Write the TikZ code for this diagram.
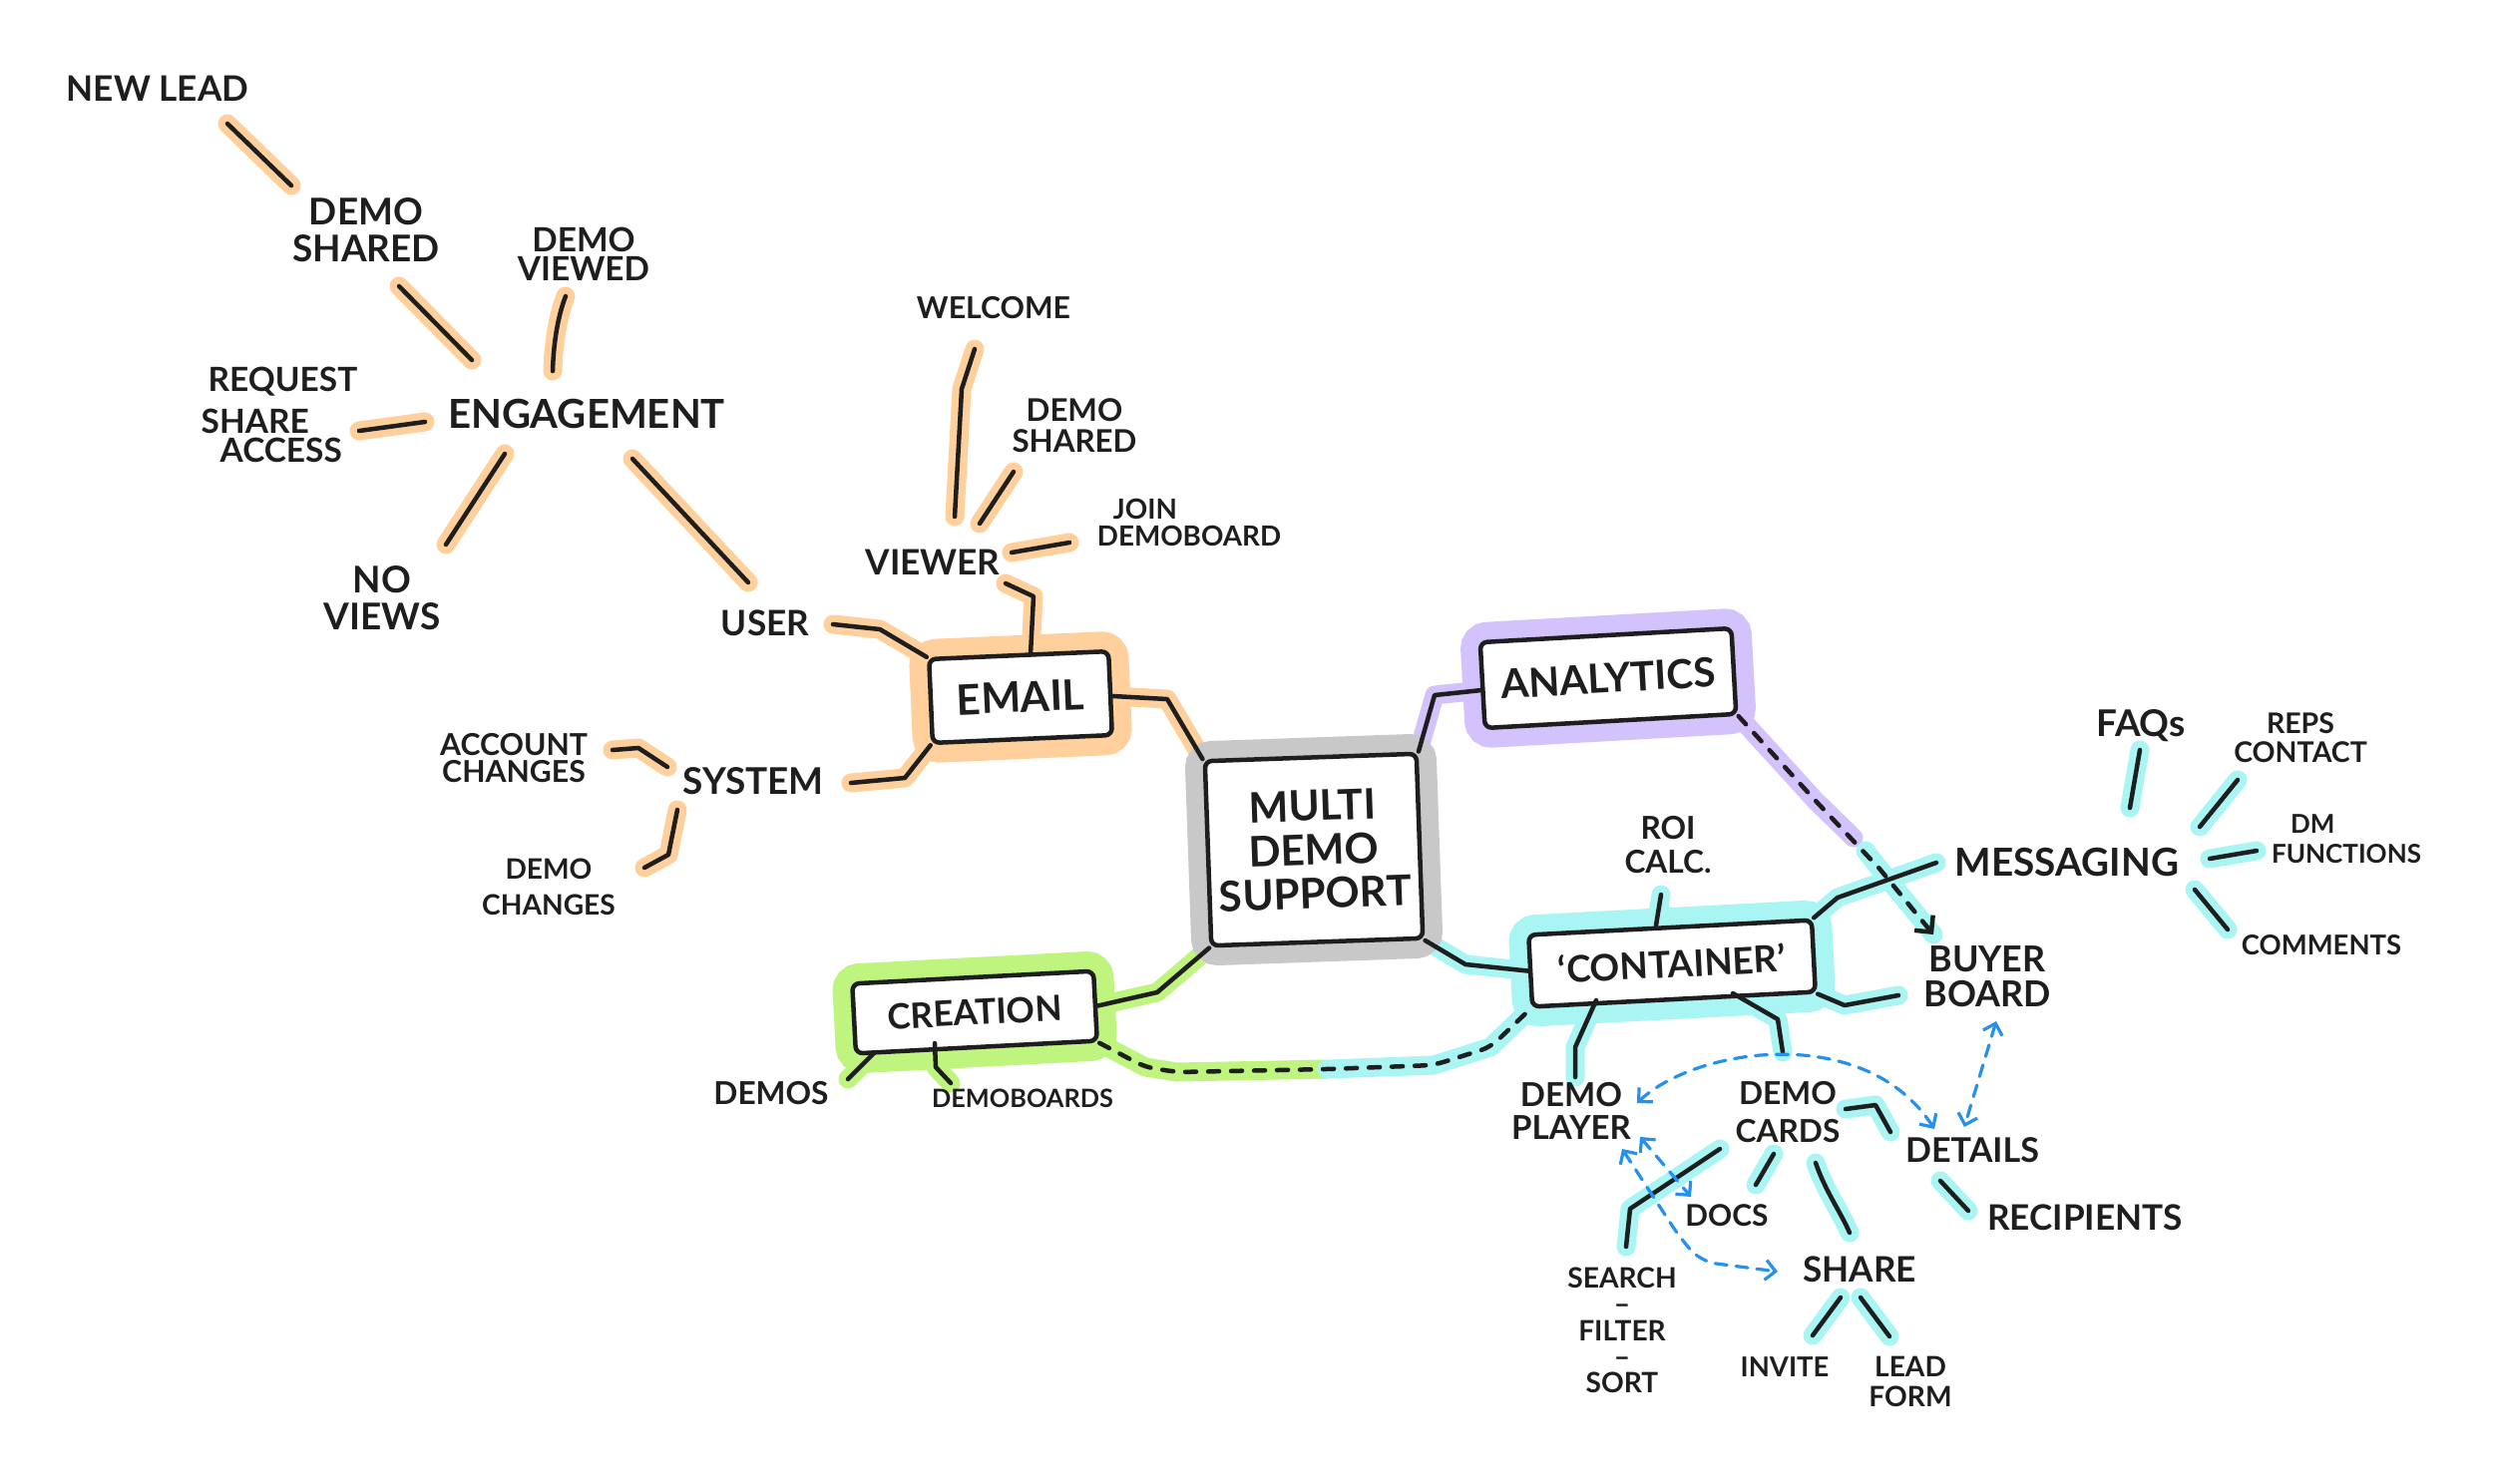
\documentclass[tikz,border=0pt]{standalone}
\usepackage{fontspec}
\setmainfont{Lato}
\usetikzlibrary{arrows.meta}
\definecolor{inkc}{HTML}{1E1E1E}
\definecolor{hlorange}{HTML}{FFCF9C}
\definecolor{hlpurple}{HTML}{D3C2FC}
\definecolor{hlgrey}{HTML}{C8C8C8}
\definecolor{hlcyan}{HTML}{A8F5F3}
\definecolor{hlgreen}{HTML}{BFF47F}
\definecolor{arrblue}{HTML}{2490EF}
\pgfdeclarelayer{bg}
\pgfsetlayers{bg,main}
\newcommand\myconn[2]{%
  \begin{pgfonlayer}{bg}\draw[hl=#1] #2;\end{pgfonlayer}%
  \draw[inkline] #2;}
\begin{document}
\begin{tikzpicture}[x=0.01cm,y=-0.01cm,
  inkline/.style={draw=inkc, line width=0.045cm, line cap=round, line join=round},
  hl/.style={draw=#1, line width=0.19cm, line cap=round, line join=round},
  lbl/.style 2 args={font=\fontsize{#1}{#2}\selectfont\bfseries, text=inkc, align=center, inner sep=0pt},
  boxn/.style={draw=inkc, fill=white, line width=0.045cm, rounded corners=0.07cm, inner sep=0pt, text=inkc, align=center, preaction={draw=#1, line width=0.4cm}},
  dashy/.style={dash pattern=on 0.11cm off 0.12cm},
  barrow/.style={draw=arrblue, line width=0.032cm, line cap=round, dash pattern=on 0.12cm off 0.09cm, {Straight Barb[length=0.1cm,width=0.2cm]}-{Straight Barb[length=0.1cm,width=0.2cm]}}
]
\useasboundingbox (0,0) rectangle (2500,1487);
\begin{pgfonlayer}{bg}\fill[white] (0,0) rectangle (2500,1487);\end{pgfonlayer}

% ---------- boxes ----------
\node[boxn=hlorange, minimum width=1.8cm, minimum height=0.84cm, rotate=2.5, font=\fontsize{12}{14}\selectfont\bfseries] (email) at (1023,699) {EMAIL};
\node[boxn=hlgrey, minimum width=2.12cm, minimum height=1.85cm, rotate=2, font=\fontsize{12}{12.5}\selectfont\bfseries] (mds) at (1317,852) {MULTI\\DEMO\\SUPPORT};
\node[boxn=hlpurple, minimum width=2.52cm, minimum height=0.86cm, rotate=3.2, font=\fontsize{11.5}{14}\selectfont\bfseries] (ana) at (1612,680) {ANALYTICS};
\node[boxn=hlcyan, minimum width=2.84cm, minimum height=0.72cm, rotate=3, font=\fontsize{10.5}{14}\selectfont\bfseries] (cont) at (1676,966) {`CONTAINER'};
\node[boxn=hlgreen, minimum width=2.42cm, minimum height=0.7cm, rotate=3, font=\fontsize{10}{14}\selectfont\bfseries] (cre) at (977,1015) {CREATION};

% ---------- labels ----------
\node[lbl={10}{12}] (nl) at (158,89) {NEW LEAD};
\node[lbl={10.5}{10.5}] (dsh) at (367,231) {DEMO\\SHARED};
\node[lbl={9.5}{8.3}] (dv) at (585,255) {DEMO\\VIEWED};
\node[lbl={11.4}{12}] (eng) at (588,415) {ENGAGEMENT};
\node[lbl={9.5}{8.3}, align=left] (rsa) at (280,416) {\hspace*{0.07cm}REQUEST\\[3.7pt]SHARE\\\hspace*{0.19cm}ACCESS};
\node[lbl={10.5}{10.5}] (nv) at (383,600) {NO\\VIEWS};
\node[lbl={10}{12}] (user) at (767,625) {USER};
\node[lbl={8.6}{10}] (wel) at (996,309) {WELCOME};
\node[lbl={8.9}{8.8}] (dsh2) at (1077,427) {DEMO\\SHARED};
\node[lbl={7.9}{7.7}, align=left] (jd) at (1192,524) {\hspace*{0.16cm}JOIN\\DEMOBOARD};
\node[lbl={10}{12}] (viewer) at (935,564) {VIEWER};
\node[lbl={10.5}{12}] (sys) at (755,783) {SYSTEM};
\node[lbl={8.6}{7.7}] (ac) at (515,760) {ACCOUNT\\CHANGES};
\node[lbl={8}{10.2}] (dc) at (550,889) {DEMO\\CHANGES};
\node[lbl={9}{9.7}] (roi) at (1672,847) {ROI\\CALC.};
\node[lbl={11}{12}] (msg) at (2072,864) {MESSAGING};
\node[lbl={10.2}{10}] (bb) at (1992,979) {BUYER\\BOARD};
\node[lbl={9.4}{9.4}] (dp) at (1575,1114) {DEMO\\PLAYER};
\node[lbl={9}{10.8}] (dcards) at (1792,1115) {DEMO\\CARDS};
\node[lbl={9.7}{12}] (det) at (1977,1153) {DETAILS};
\node[lbl={10}{12}] (rec) at (2090,1221) {RECIPIENTS};
\node[lbl={8}{7.5}] (sfs) at (1626,1334) {SEARCH\\--\\FILTER\\--\\SORT};
\node[lbl={8.5}{12}] (docs) at (1731,1219) {DOCS};
\node[lbl={10}{12}] (share) at (1864,1273) {SHARE};
\node[lbl={7.8}{12}] (inv) at (1789,1371) {INVITE};
\node[lbl={8}{8.5}] (lf) at (1915,1385) {LEAD\\FORM};
\node[lbl={10.5}{12}] (faq) at (2146,728) {FAQs};
\node[lbl={8.1}{8.3}] (reps) at (2306,740) {REPS\\CONTACT};
\node[lbl={7.4}{8.5}, align=left] (dm) at (2352,841) {\hspace*{0.19cm}DM\\FUNCTIONS};
\node[lbl={7.8}{12}] (com) at (2327,948) {COMMENTS};
\node[lbl={9}{12}] (demos) at (773,1096) {DEMOS};
\node[lbl={7.2}{12}] (dboards) at (1025,1101) {DEMOBOARDS};

% ---------- orange connectors ----------
\myconn{hlorange}{([shift={(70,35)}]nl.center) -- ([shift={(-75,-45)}]dsh.center)}
\myconn{hlorange}{([shift={(33,56)}]dsh.center) -- ([shift={(-115,-54)}]eng.center)}
\myconn{hlorange}{([shift={(-18,42)}]dv.center) .. controls (560,315) and (555,340) .. ([shift={(-34,-43)}]eng.center)}
\myconn{hlorange}{([shift={(80,16)}]rsa.center) -- ([shift={(-162,8)}]eng.center)}
\myconn{hlorange}{([shift={(-82,40)}]eng.center) -- ([shift={(64,-54)}]nv.center)}
\myconn{hlorange}{([shift={(46,45)}]eng.center) -- ([shift={(-17,-41)}]user.center)}
\myconn{hlorange}{([shift={(68,1)}]user.center) -- (882,631) -- (email.north west)}
\myconn{hlorange}{([shift={(-19,41)}]wel.center) -- (964,390) -- ([shift={(22,-46)}]viewer.center)}
\myconn{hlorange}{([shift={(-61,46)}]dsh2.center) -- ([shift={(47,-39)}]viewer.center)}
\myconn{hlorange}{([shift={(-120,20)}]jd.center) -- ([shift={(79,-10)}]viewer.center)}
\myconn{hlorange}{([shift={(73,21)}]viewer.center) -- (1036,598) -- ([shift={(12,0)}]email.north)}
\myconn{hlorange}{([shift={(0,3)}]email.east) -- (1170,701) -- (mds.north west)}
\myconn{hlorange}{([shift={(98,2)}]sys.center) -- (907,780) -- (email.south west)}
\myconn{hlorange}{([shift={(99,-8)}]ac.center) -- (640,750) -- ([shift={(-86,-14)}]sys.center)}
\myconn{hlorange}{([shift={(-76,29)}]sys.center) -- (670,857) -- ([shift={(96,-19)}]dc.center)}

% ---------- purple ----------
\myconn{hlpurple}{(mds.north east) -- (1438,697) -- ([shift={(0,5)}]ana.west)}
\begin{pgfonlayer}{bg}
\draw[hl=hlpurple] (ana.south east) -- (1820,803) -- (1858,840);
\draw[hl=hlcyan] (1870,853) -- (1884,871) -- ([shift={(-54,-42)}]bb.center);
\end{pgfonlayer}
\draw[inkline, dashy, -{Straight Barb[length=0.12cm,width=0.24cm]}] (ana.south east) -- (1820,803) -- (1884,871) -- ([shift={(-54,-42)}]bb.center);

% ---------- cyan ----------
\myconn{hlcyan}{(mds.south east) -- (1469,967) -- (cont.west)}
\myconn{hlcyan}{([shift={(-7,50)}]roi.center) -- ([shift={(-14,0)}]cont.north)}
\myconn{hlcyan}{(cont.north east) -- (1842,900) -- ([shift={(-131,1)}]msg.center)}
\myconn{hlcyan}{(cont.south east) -- (1849,1008) -- ([shift={(-89,19)}]bb.center)}
\myconn{hlcyan}{([shift={(-76,37)}]cont.center) -- (1579,1050) -- ([shift={(4,-34)}]dp.center)}
\myconn{hlcyan}{([shift={(61,30)}]cont.center) -- (1782,1022) -- ([shift={(-5,-60)}]dcards.center)}
\myconn{hlcyan}{([shift={(58,-3)}]dcards.center) -- (1880,1108) -- ([shift={(-82,-18)}]det.center)}
\myconn{hlcyan}{([shift={(-32,31)}]det.center) -- ([shift={(-117,-7)}]rec.center)}
\myconn{hlcyan}{([shift={(-68,37)}]dcards.center) -- (1634,1212) -- ([shift={(4,-84)}]sfs.center)}
\myconn{hlcyan}{([shift={(-14,42)}]dcards.center) -- ([shift={(29,-31)}]docs.center)}
\myconn{hlcyan}{([shift={(28,51)}]dcards.center) .. controls (1830,1195) and (1845,1215) .. ([shift={(-10,-37)}]share.center)}
\myconn{hlcyan}{([shift={(-19,28)}]share.center) -- ([shift={(28,-32)}]inv.center)}
\myconn{hlcyan}{([shift={(1,28)}]share.center) -- ([shift={(-21,-45)}]lf.center)}
\myconn{hlcyan}{([shift={(-1,24)}]faq.center) -- ([shift={(63,-54)}]msg.center)}
\myconn{hlcyan}{([shift={(-63,42)}]reps.center) -- ([shift={(133,-35)}]msg.center)}
\myconn{hlcyan}{([shift={(-90,12)}]dm.center) -- ([shift={(143,-3)}]msg.center)}
\myconn{hlcyan}{([shift={(128,28)}]msg.center) -- ([shift={(-94,-16)}]com.center)}

% ---------- green ----------
\myconn{hlgreen}{(mds.south west) -- (1160,995) -- (cre.east)}
\myconn{hlgreen}{([shift={(-101,41)}]cre.center) -- ([shift={(77,-14)}]demos.center)}
\myconn{hlgreen}{([shift={(-40,31)}]cre.center) -- (938,1070) -- ([shift={(-72,-15)}]dboards.center)}
\begin{pgfonlayer}{bg}
\draw[hl=hlgreen] (cre.south east) -- (1148,1070) -- (1180,1075) -- (1330,1072);
\draw[hl=hlcyan] (1330,1072) -- (1437,1068) -- (1494,1050) -- (cont.south west);
\end{pgfonlayer}
\draw[inkline, dashy, rounded corners=0.1cm] (cre.south east) -- (1148,1070) -- (1180,1075) -- (1330,1072) -- (1437,1068) -- (1494,1050) -- (cont.south west);

% ---------- blue dashed arrows ----------
\draw[barrow] ([shift={(66,-8)}]dp.center) .. controls (1700,1050) and (1870,1025) .. ([shift={(-38,-21)}]det.center);
\draw[barrow] ([shift={(9,45)}]bb.center) -- ([shift={(-8,-23)}]det.center);
\draw[barrow] ([shift={(69,26)}]dp.center) -- ([shift={(-36,-19)}]docs.center);
\draw[barrow, rounded corners=0.15cm] ([shift={(51,38)}]dp.center) -- (1684,1241) -- (1705,1265) -- ([shift={(-82,2)}]share.center);
\end{tikzpicture}
\end{document}
